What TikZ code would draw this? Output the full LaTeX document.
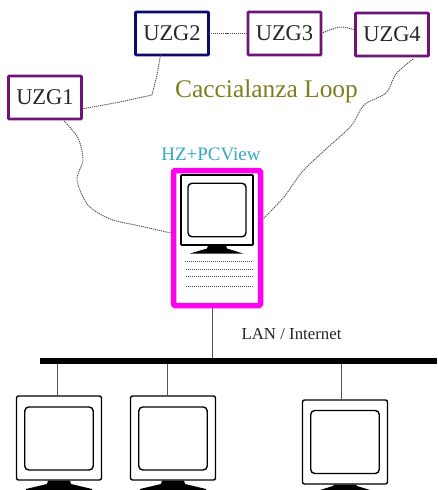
\documentclass[tikz,border=0pt]{standalone}
\usepackage{fontspec}
\setmainfont{Liberation Serif}
\definecolor{uzgpurple}{HTML}{6E1478}
\definecolor{uzgnavy}{HTML}{0A0A6E}
\definecolor{loopolive}{HTML}{7F7F1E}
\definecolor{hzteal}{HTML}{35A9BE}
\definecolor{hotpink}{HTML}{FF00F0}
\definecolor{wire}{HTML}{555555}
\tikzset{
  uzgbox/.style={draw=#1,line width=2.8pt,fill=white,rounded corners=0.8pt,minimum width=73pt,minimum height=43pt,inner sep=0pt,outer sep=0pt,font=\fontsize{22.5}{25}\selectfont,text=black!85},
  loopline/.style={draw=black!70,line width=0.9pt,dash pattern=on 1.2pt off 0.9pt},
  wireline/.style={draw=wire,line width=1pt},
  clientbox/.style={draw=black,line width=1.4pt,rounded corners=2pt,fill=white,minimum width=85pt,minimum height=84pt,inner sep=0pt,outer sep=0pt},
  screenbox/.style={draw=black,line width=1.4pt,rounded corners=4pt,fill=white,minimum width=68.5pt,minimum height=63pt,inner sep=0pt,outer sep=0pt},
  standshape/.style={fill=black,draw=none},
  ventline/.style={draw=black!70,line width=0.8pt,dash pattern=on 1.2pt off 0.8pt},
}
\begin{document}
\begin{tikzpicture}[x=1pt,y=-1pt]
\useasboundingbox[fill=white] (0,0) rectangle (437,490);
\clip (0,0) rectangle (437,490);

% UZG boxes
\node[uzgbox=uzgpurple] (uzg1) at (45,97.5) {UZG1};
\node[uzgbox=uzgnavy]   (uzg2) at (172,33.5) {UZG2};
\node[uzgbox=uzgpurple] (uzg3) at (284.5,33.5) {UZG3};
\node[uzgbox=uzgpurple] (uzg4) at (392,34.5) {UZG4};

% labels
\node[text=loopolive,font=\fontsize{25.4}{27}\selectfont,inner sep=0pt] (looplabel) at (266.5,91.5) {Caccialanza Loop};
\node[text=hzteal,font=\fontsize{19}{21}\selectfont,inner sep=0pt] (hzlabel) at (211,154) {HZ+PCView};
\node[text=black!85,font=\fontsize{16.8}{18}\selectfont,inner sep=0pt] (lanlabel) at (291.5,334) {LAN / Internet};

% main station
\node[draw=hotpink,line width=5.5pt,rounded corners=1.5pt,fill=white,minimum width=87pt,minimum height=135pt,inner sep=0pt,outer sep=2.5pt] (pc) at (217,238) {};
\node[draw=black,line width=1.6pt,fill=white,rounded corners=0.8pt,minimum width=72pt,minimum height=70pt,inner sep=0pt,outer sep=0pt] (pcmon) at (217,210) {};
\node[screenbox,minimum width=58pt,minimum height=53.5pt] (pcscreen) at (217,210) {};
\fill[standshape] (208,245.5) -- (226,245.5) -- (227,248.5) -- (243,253.5) -- (190,253.5) -- (207,248.5) -- cycle;
\draw[ventline] (185,261) -- (252,261);
\draw[ventline] (186,269) -- (253,269);
\draw[ventline] (186,276.5) -- (253,276.5);
\draw[ventline] (186,286) -- (253,286);

% loop connectors
\coordinate (a1) at (152,95);
\coordinate (a2) at (157,75);
\draw[loopline] (uzg1.east |- 0,109) -- (120,102) -- (a1) -- (a2) -- (uzg2.south -| 160.5,0);
\draw[loopline] (uzg2.east) -- (uzg3.west);
\coordinate (b1) at (331,29.5);
\coordinate (b2) at (342,27);
\draw[loopline] plot[smooth,tension=0.6] coordinates {(uzg3.east) (b1) (b2) (uzg4.west |- 0,30)};
\coordinate (c0) at (413,59);
\coordinate (c1a) at (396,74);
\coordinate (c2a) at (386,93);
\coordinate (c3a) at (364,105);
\coordinate (c4a) at (351,126);
\coordinate (c5a) at (326,149);
\coordinate (c6a) at (302,172);
\coordinate (c7a) at (284,197);
\coordinate (c8a) at (pc.east |- 0,219);
\draw[loopline] plot[smooth,tension=0.5] coordinates {(c0) (c1a) (c2a) (c3a) (c4a) (c5a) (c6a) (c7a) (c8a)};
\coordinate (d0) at (64,121);
\coordinate (d1) at (78,138);
\coordinate (d2) at (83,160);
\coordinate (d3) at (77,180);
\coordinate (d4) at (88,205);
\coordinate (d5) at (110,219);
\coordinate (d6) at (140,226);
\coordinate (d7) at (pc.west |- 0,233);
\draw[loopline] plot[smooth,tension=0.5] coordinates {(d0) (d1) (d2) (d3) (d4) (d5) (d6) (d7)};

% bus
\node[fill=black,minimum width=397pt,minimum height=6.5pt,inner sep=0pt,outer sep=0pt] (bus) at (238.5,361) {};

% client monitors
\node[clientbox] (client1) at (59,438) {};
\node[screenbox] (screen1) at (59,438.5) {};
\fill[standshape] (48,480.5) -- (70,480.5) -- (71,484) -- (92,489) -- (92,490) -- (26,490) -- (26,489) -- (47,484) -- cycle;
\node[clientbox] (client2) at (173,438) {};
\node[screenbox] (screen2) at (173,438.5) {};
\fill[standshape] (162,480.5) -- (184,480.5) -- (185,484) -- (206,489) -- (206,490) -- (140,490) -- (140,489) -- (161,484) -- cycle;
\node[clientbox] (client3) at (345,442) {};
\node[screenbox] (screen3) at (345,442) {};
\fill[standshape] (334,484.5) -- (356,484.5) -- (357,486) -- (370,490) -- (320,490) -- (333,486) -- cycle;

% wires
\coordinate (t0) at (212,308);
\coordinate (t1) at (57.5,396);
\coordinate (t2) at (167.5,396);
\coordinate (t3) at (341,400);
\draw[wireline] (t0) -- (t0 |- bus.north);
\draw[wireline] (t1) -- (t1 |- bus.south);
\draw[wireline] (t2) -- (t2 |- bus.south);
\draw[wireline] (t3) -- (t3 |- bus.south);
\end{tikzpicture}
\end{document}
